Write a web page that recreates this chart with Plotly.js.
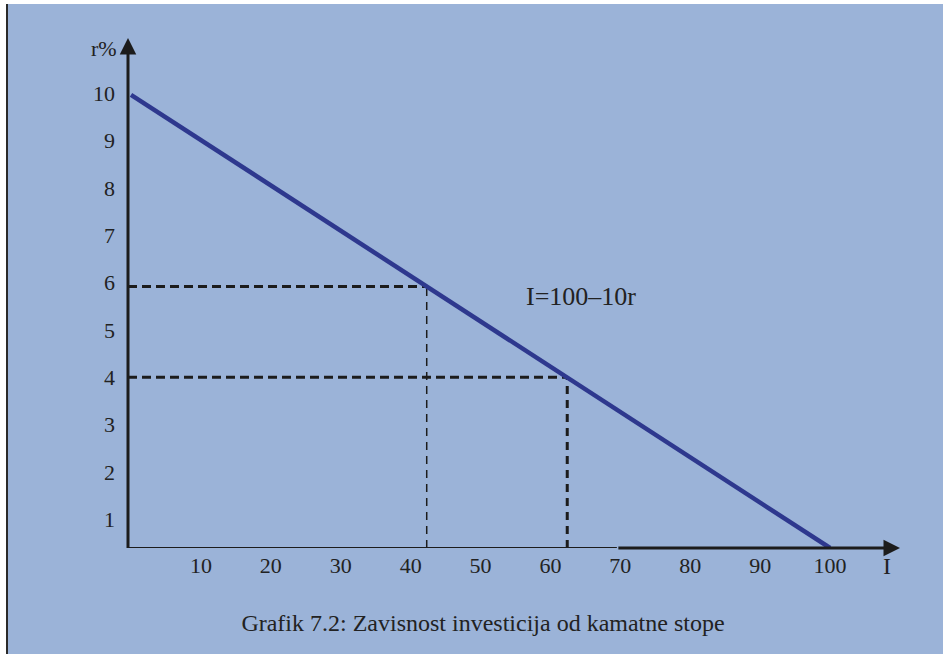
<!DOCTYPE html>
<html>
<head>
<meta charset="utf-8">
<script src="https://cdn.plot.ly/plotly-3.0.1.min.js"></script>
<style>
  html, body { margin: 0; padding: 0; background: #ffffff; width: 943px; height: 654px; overflow: hidden; }
  #edge { position: absolute; left: 6px; top: 4px; width: 2px; height: 650px; background: #2a2a2a; }
  #chart { position: absolute; left: 8px; top: 4px; width: 935px; height: 650px; }
</style>
</head>
<body>
<div id="edge"></div>
<div id="chart"></div>
<script>
// ---- data ----
const xTicks = [10, 20, 30, 40, 50, 60, 70, 80, 90, 100];
const yTicks = [1, 2, 3, 4, 5, 6, 7, 8, 9, 10];
const lineI = [0, 100];          // investment I
const lineR = [9.97, 0.39];      // interest rate r%
const levelR = [5.92, 4.0];      // dashed rate levels
const levelI = [42.3, 62.4];     // matching investment values
const equationLabel = 'I=100–10r';
const caption = 'Grafik 7.2: Zavisnost investicija od kamatne stope';
const yAxisLabel = 'r%';
const xAxisLabel = 'I';

// ---- axis extents ----
const xMin = -0.43, xMax = 110.0;
const yMin = 0.39, yMax = 11.17;

const blue = 'rgb(46,56,142)';
const ink = '#1c1c1c';
const textCol = '#222222';
const serif = 'Liberation Serif, Times New Roman, serif';

const traces = [
  { x: [xMin, levelI[0]], y: [levelR[0], levelR[0]], mode: 'lines',
    line: { color: ink, width: 3, dash: '9px,5px' }, hoverinfo: 'skip' },
  { x: [xMin, levelI[1]], y: [levelR[1], levelR[1]], mode: 'lines',
    line: { color: ink, width: 3, dash: '9px,5px' }, hoverinfo: 'skip' },
  { x: [levelI[0], levelI[0]], y: [yMin, levelR[0]], mode: 'lines',
    line: { color: ink, width: 1.5, dash: '8px,6px' }, hoverinfo: 'skip' },
  { x: [levelI[1], levelI[1]], y: [yMin, levelR[1]], mode: 'lines',
    line: { color: ink, width: 3, dash: '8px,6px' }, hoverinfo: 'skip' },
  { x: lineI, y: lineR, mode: 'lines', line: { color: blue, width: 4.5 }, hoverinfo: 'skip' }
];

const layout = {
  width: 935, height: 650,
  margin: { l: 120, r: 43, t: 34, b: 106 },
  paper_bgcolor: 'rgb(155,179,216)',
  plot_bgcolor: 'rgba(0,0,0,0)',
  showlegend: false,
  font: { family: serif, color: textCol, size: 22 },
  xaxis: {
    range: [xMin, xMax], showgrid: false, zeroline: false, showline: false,
    tickmode: 'array', tickvals: xTicks, ticktext: xTicks.map(String),
    ticks: '', ticklabelstandoff: 2, tickfont: { family: serif, size: 22, color: textCol }
  },
  yaxis: {
    range: [yMin, yMax], showgrid: false, zeroline: false, showline: false,
    tickmode: 'array', tickvals: yTicks, ticktext: yTicks.map(String),
    ticks: '', ticklabelstandoff: 12, tickfont: { family: serif, size: 22, color: textCol }
  },
  title: {
    text: caption, font: { family: serif, size: 24, color: textCol },
    xref: 'container', yref: 'container', x: 475 / 935, y: 0.049,
    xanchor: 'center', yanchor: 'middle'
  },
  shapes: [
    { type: 'line', xref: 'x', yref: 'y', x0: xMin, x1: 69.5, y0: yMin, y1: yMin,
      line: { color: ink, width: 2 } }
  ],
  annotations: [
    { xref: 'x', yref: 'y', axref: 'x', ayref: 'y', x: xMin, y: yMax, ax: xMin, ay: yMin - 0.03,
      text: '', showarrow: true, arrowhead: 2, arrowsize: 1.1, arrowwidth: 3, arrowcolor: ink, standoff: 0 },
    { xref: 'x', yref: 'y', axref: 'x', ayref: 'y', x: xMax, y: yMin, ax: 69.5, ay: yMin,
      text: '', showarrow: true, arrowhead: 2, arrowsize: 1.1, arrowwidth: 3, arrowcolor: ink, standoff: 0 },
    { xref: 'paper', yref: 'paper', x: -0.012, y: 0.98, text: yAxisLabel, showarrow: false,
      xanchor: 'right', yanchor: 'middle', font: { family: serif, size: 22, color: textCol } },
    { xref: 'paper', yref: 'paper', x: 0.983, y: -0.036, text: xAxisLabel, showarrow: false,
      xanchor: 'center', yanchor: 'middle', font: { family: serif, size: 24, color: textCol } },
    { xref: 'x', yref: 'y', x: 64.4, y: 5.70, text: equationLabel, showarrow: false,
      xanchor: 'center', yanchor: 'middle', font: { family: serif, size: 26, color: textCol } }
  ]
};

Plotly.newPlot('chart', traces, layout, { staticPlot: true, displayModeBar: false });
</script>
</body>
</html>
